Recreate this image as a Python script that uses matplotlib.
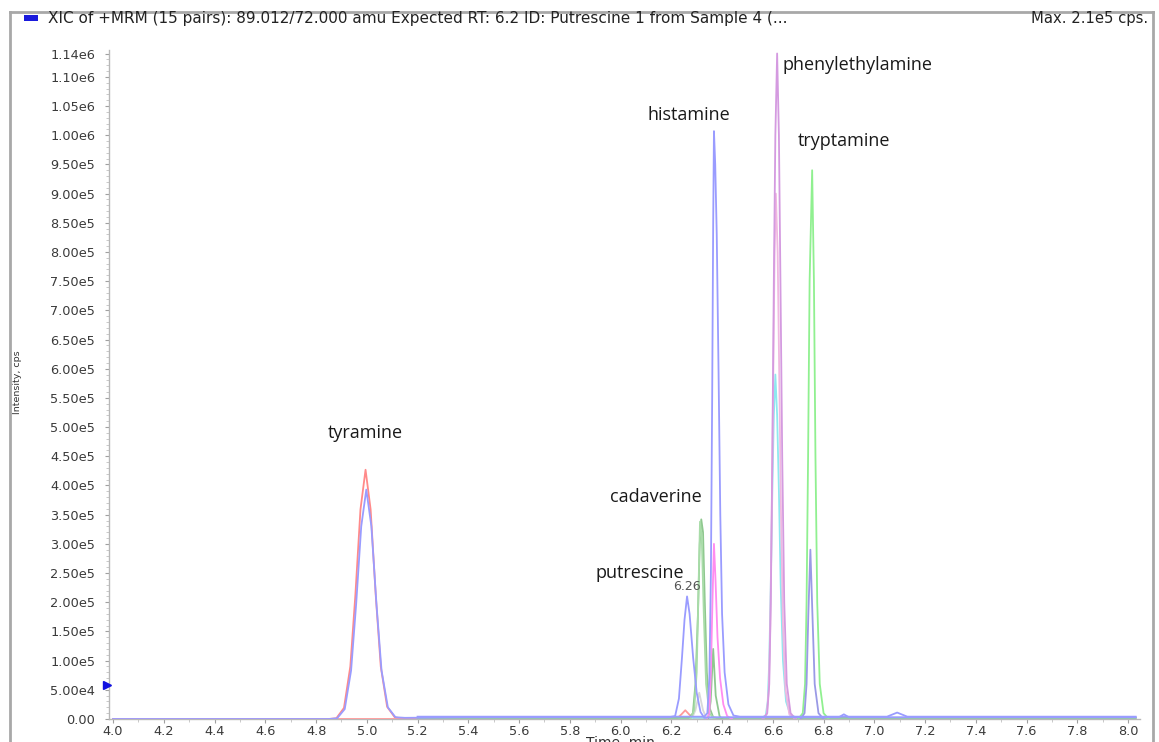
import matplotlib
matplotlib.use("Agg")
import matplotlib.pyplot as plt
from matplotlib.ticker import FixedLocator, MultipleLocator
from matplotlib.patches import Rectangle
from matplotlib.lines import Line2D

# ---------------- data ----------------
# each trace: retention times (min) and intensities (cps)
tyr_red_t = [4.00, 4.85, 4.88, 4.91, 4.935, 4.955, 4.975, 4.995, 5.015, 5.035, 5.055, 5.08, 5.11, 5.15, 5.30]
tyr_red_y = [0, 0, 1.3e3, 1.9e4, 9.0e4, 2.13e5, 3.59e5, 4.27e5, 3.59e5, 2.13e5, 9.0e4, 2.1e4, 3e3, 0, 0]

tyr_blue_t = [4.00, 4.85, 4.883, 4.913, 4.938, 4.958, 4.978, 4.998, 5.018, 5.038, 5.058, 5.083, 5.113, 5.15,
              5.40, 5.80, 6.19, 6.215, 6.23, 6.242, 6.252, 6.262, 6.272, 6.286, 6.30, 6.315, 6.33, 6.35,
              6.86, 6.88, 6.90, 7.20, 7.60, 8.03]
tyr_blue_y = [0, 0, 1.2e3, 1.7e4, 8.3e4, 1.97e5, 3.30e5, 3.93e5, 3.30e5, 1.97e5, 8.3e4, 2.0e4, 3e3, 2e3,
              3e3, 3e3, 3e3, 5e3, 3.5e4, 1.05e5, 1.7e5, 2.1e5, 1.8e5, 1.05e5, 4.5e4, 1.2e4, 2e3, 3e3,
              3e3, 8e3, 3e3, 3e3, 3e3, 3e3]

put_red_t = [4.00, 6.22, 6.24, 6.255, 6.27, 6.29, 8.03]
put_red_y = [0, 0, 8e3, 1.5e4, 8e3, 0, 0]

gray_t = [6.28, 6.295, 6.31, 6.325, 6.34]
gray_y = [0, 1.5e4, 4.5e4, 1.5e4, 0]

cad_green_t = [5.20, 6.27, 6.285, 6.295, 6.305, 6.312, 6.318, 6.325, 6.332, 6.34, 6.35, 6.365, 6.38, 8.03]
cad_green_y = [2e3, 2e3, 1e4, 6e4, 1.8e5, 3.0e5, 3.42e5, 3.2e5, 2.0e5, 8e4, 2e4, 3e3, 2e3, 2e3]

cad_green2_t = [6.275, 6.29, 6.30, 6.307, 6.313, 6.32, 6.328, 6.337, 6.35, 6.37]
cad_green2_y = [0, 1.5e4, 8e4, 2.2e5, 3.38e5, 3.1e5, 1.8e5, 6e4, 1e4, 0]

his_blue_t = [5.20, 6.33, 6.342, 6.35, 6.356, 6.361, 6.365, 6.368, 6.373, 6.379, 6.386, 6.393, 6.40, 6.41,
              6.425, 6.445, 6.47, 7.05, 7.09, 7.13, 8.03]
his_blue_y = [4e3, 4e3, 1e4, 7e4, 2.5e5, 5.5e5, 8.5e5, 1.007e6, 9.5e5, 8.3e5, 6.0e5, 3.5e5, 1.8e5, 8e4,
              2.5e4, 6e3, 4e3, 4e3, 1.1e4, 4e3, 4e3]

his_pink_t = [6.34, 6.35, 6.356, 6.362, 6.368, 6.374, 6.382, 6.392, 6.405, 6.42, 6.44]
his_pink_y = [0, 1e4, 8e4, 2.0e5, 3.0e5, 2.4e5, 1.4e5, 7e4, 2.5e4, 5e3, 0]

his_green_t = [6.345, 6.355, 6.365, 6.375, 6.39, 6.40]
his_green_y = [0, 3e4, 1.2e5, 4e4, 5e3, 0]

phe_orchid_t = [6.56, 6.578, 6.586, 6.592, 6.598, 6.604, 6.61, 6.617, 6.624, 6.63, 6.637, 6.645, 6.655, 6.67, 6.69]
phe_orchid_y = [0, 1e4, 6e4, 2.0e5, 4.5e5, 7.5e5, 1.0e6, 1.14e6, 1.0e6, 7.5e5, 4.5e5, 2.0e5, 6e4, 1e4, 0]

phe_pink_t = [6.56, 6.576, 6.584, 6.590, 6.596, 6.602, 6.607, 6.612, 6.619, 6.625, 6.632, 6.64, 6.65, 6.665, 6.69]
phe_pink_y = [0, 8e3, 5e4, 1.6e5, 3.6e5, 6.0e5, 8.0e5, 9.0e5, 8.0e5, 6.0e5, 3.6e5, 1.6e5, 5e4, 8e3, 0]

phe_cyan_t = [5.20, 6.555, 6.572, 6.58, 6.586, 6.592, 6.598, 6.604, 6.61, 6.617, 6.624, 6.631, 6.64, 6.652, 6.67,
              6.70, 8.03]
phe_cyan_y = [2e3, 2e3, 6e3, 3e4, 1.0e5, 2.3e5, 3.9e5, 5.2e5, 5.9e5, 5.2e5, 3.9e5, 2.3e5, 1.0e5, 3e4, 6e3,
              2e3, 2e3]

try_green_t = [6.70, 6.718, 6.727, 6.733, 6.739, 6.745, 6.755, 6.762, 6.768, 6.775, 6.785, 6.80, 6.82]
try_green_y = [0, 1e4, 6e4, 2.0e5, 4.5e5, 7.5e5, 9.4e5, 7.5e5, 4.5e5, 2.0e5, 6e4, 1e4, 0]

try_purple_t = [6.71, 6.725, 6.733, 6.74, 6.748, 6.756, 6.765, 6.78, 6.80]
try_purple_y = [0, 1e4, 6e4, 1.8e5, 2.9e5, 1.8e5, 6e4, 1e4, 0]

traces = [
    (tyr_red_t, tyr_red_y, "#ff8a8a"),
    (put_red_t, put_red_y, "#ff9a9a"),
    (gray_t, gray_y, "#d8d8d8"),
    (phe_cyan_t, phe_cyan_y, "#8ee8f0"),
    (cad_green_t, cad_green_y, "#8fc88f"),
    (cad_green2_t, cad_green2_y, "#a8dca8"),
    (his_green_t, his_green_y, "#8fc88f"),
    (his_pink_t, his_pink_y, "#ff8cf0"),
    (phe_pink_t, phe_pink_y, "#f0b8e0"),
    (phe_orchid_t, phe_orchid_y, "#d49ae0"),
    (try_green_t, try_green_y, "#90f090"),
    (try_purple_t, try_purple_y, "#9a9ae6"),
    (his_blue_t, his_blue_y, "#9a9cff"),
    (tyr_blue_t, tyr_blue_y, "#9a9cff"),
]

labels = ["tyramine", "putrescine", "cadaverine", "histamine", "phenylethylamine", "tryptamine"]
label_x = [4.995, 6.075, 6.14, 6.27, 6.64, 6.88]
label_y = [4.9e5, 2.5e5, 3.8e5, 1.035e6, 1.12e6, 9.9e5]
label_ha = ["center", "center", "center", "center", "left", "center"]

ytick_vals = [0, 5e4, 1e5, 1.5e5, 2e5, 2.5e5, 3e5, 3.5e5, 4e5, 4.5e5, 5e5, 5.5e5, 6e5, 6.5e5, 7e5,
              7.5e5, 8e5, 8.5e5, 9e5, 9.5e5, 1.0e6, 1.05e6, 1.1e6, 1.14e6]
ytick_labels = ["0.00", "5.00e4", "1.00e5", "1.50e5", "2.00e5", "2.50e5", "3.00e5", "3.50e5", "4.00e5",
                "4.50e5", "5.00e5", "5.50e5", "6.00e5", "6.50e5", "7.00e5", "7.50e5", "8.00e5", "8.50e5",
                "9.00e5", "9.50e5", "1.00e6", "1.05e6", "1.10e6", "1.14e6"]
xtick_vals = [4.0, 4.2, 4.4, 4.6, 4.8, 5.0, 5.2, 5.4, 5.6, 5.8, 6.0, 6.2, 6.4, 6.6, 6.8, 7.0,
              7.2, 7.4, 7.6, 7.8, 8.0]

# ---------------- figure ----------------
fig = plt.figure(figsize=(11.59, 7.42), dpi=100)
ax = fig.add_axes([109 / 1159, 23 / 742, 1031 / 1159, 669 / 742])

for t, y, c in traces:
    ax.plot(t, y, color=c, lw=1.3, solid_joinstyle="round", zorder=3)

ax.set_xlim(3.984, 8.047)
ax.set_ylim(0, 1.146e6)

for s in ["top", "right"]:
    ax.spines[s].set_visible(False)
ax.spines["left"].set_color("#b8b8b8")
ax.spines["bottom"].set_color("#b8b8b8")
ax.spines["left"].set_linewidth(1.0)
ax.spines["bottom"].set_linewidth(1.0)

tick_font = dict(family="DejaVu Sans", size=9.3, color="#3a3a3a")
ax.yaxis.set_major_locator(FixedLocator(ytick_vals))
ax.set_yticklabels(ytick_labels, **tick_font)
ax.yaxis.set_minor_locator(MultipleLocator(1e4))
ax.xaxis.set_major_locator(FixedLocator(xtick_vals))
ax.set_xticklabels([f"{v:.1f}" for v in xtick_vals], **tick_font)
ax.xaxis.set_minor_locator(MultipleLocator(0.1))
ax.tick_params(axis="y", which="major", length=3, width=0.8, color="#a0a0a0", pad=7)
ax.tick_params(axis="x", which="major", length=3, width=0.8, color="#a0a0a0", pad=1)
ax.tick_params(axis="both", which="minor", length=2, width=0.6, color="#c0c0c0")

# annotations
for txt, x, y, ha in zip(labels, label_x, label_y, label_ha):
    ax.text(x, y, txt, ha=ha, va="center", fontsize=13, family="Open Sans", color="#1a1a1a", zorder=5)
ax.text(6.262, 2.15e5, "6.26", ha="center", va="bottom", fontsize=9, family="DejaVu Sans",
        color="#555555", zorder=5)

# blue pointer on y-axis
ax.plot([3.978], [5.8e4], marker=">", color="#1010e0", markersize=6, clip_on=False, zorder=6)

# labels
fig.text(18 / 1159, 1 - 382 / 742, "Intensity, cps", rotation=90, ha="center", va="center",
         fontsize=6.8, family="Liberation Sans Narrow", color="#333333")
fig.text(620 / 1159, 1 - 750 / 742, "Time, min", ha="center", va="bottom", fontsize=10,
         family="DejaVu Sans", color="#333333")

# header
fig.patches.append(Rectangle((24 / 1159, 1 - 21 / 742), 14 / 1159, 6 / 742,
                             transform=fig.transFigure, facecolor="#1a1adc", edgecolor="none"))
fig.text(48 / 1159, 1 - 18 / 742,
         "XIC of +MRM (15 pairs): 89.012/72.000 amu Expected RT: 6.2 ID: Putrescine 1 from Sample 4 (...",
         ha="left", va="center", fontsize=11.0, family="DejaVu Sans", color="#222222")
fig.text(1148 / 1159, 1 - 18 / 742, "Max. 2.1e5 cps.", ha="right", va="center", fontsize=10.6,
         family="DejaVu Sans", color="#222222")

# outer frame
frame_col = "#a8a8a8"
fig.lines.append(Line2D([10 / 1159, 10 / 1159], [0, 1 - 12 / 742], transform=fig.transFigure,
                        color=frame_col, lw=2))
fig.lines.append(Line2D([10 / 1159, 1153 / 1159], [1 - 12 / 742, 1 - 12 / 742], transform=fig.transFigure,
                        color=frame_col, lw=2))
fig.lines.append(Line2D([1153 / 1159, 1153 / 1159], [0, 1 - 12 / 742], transform=fig.transFigure,
                        color=frame_col, lw=2))

fig.savefig("out.png", dpi=100)
